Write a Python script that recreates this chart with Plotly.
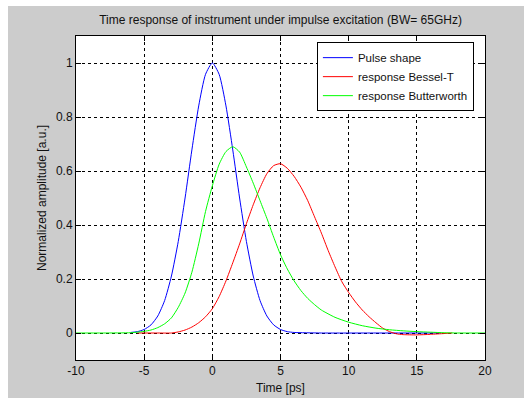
import plotly.graph_objects as go

# ---- data ----
t_pulse = [-6, -5.5, -5, -4.5, -4, -3.5, -3, -2.5, -2, -1.5, -1, -0.5, 0,
           0.5, 1, 1.5, 2, 2.5, 3, 3.5, 4, 4.5, 5, 5.5, 6, 8, 12, 16.8]
v_pulse = [0.002, 0.005, 0.013, 0.030, 0.063, 0.120, 0.211, 0.339, 0.500, 0.678, 0.841, 0.958, 1.0,
           0.958, 0.841, 0.678, 0.500, 0.339, 0.211, 0.120, 0.063, 0.030, 0.013, 0.005, 0.002, 0, 0, 0]

t_bessel = [-5.5, -4, -3, -2.5, -2, -1.5, -1, -0.5, 0, 0.5, 1, 1.5, 2, 2.5, 3, 3.5, 4, 4.5, 5,
            5.5, 6, 6.5, 7, 7.5, 8, 8.5, 9, 9.5, 10, 10.5, 11, 11.5, 12, 12.5, 13, 13.5, 14,
            15, 16, 17, 17.6]
v_bessel = [0, 0, 0, 0.004, 0.011, 0.022, 0.038, 0.060, 0.090, 0.135, 0.193, 0.260, 0.330, 0.405,
            0.475, 0.538, 0.590, 0.620, 0.627, 0.610, 0.580, 0.540, 0.490, 0.430, 0.370, 0.305,
            0.245, 0.190, 0.150, 0.115, 0.085, 0.060, 0.038, 0.018, 0.005, -0.003, -0.006,
            -0.007, -0.005, -0.002, 0]

t_butter = [-10, -8, -6, -5.5, -5, -4.5, -4, -3.5, -3, -2.5, -2, -1.5, -1, -0.5, 0, 0.5, 1, 1.5,
            2, 2.5, 3, 3.5, 4, 4.5, 5, 5.5, 6, 6.5, 7, 7.5, 8, 9, 10, 11, 12, 13, 14, 15, 16, 17,
            18, 20]
v_butter = [0, 0, 0.001, 0.003, 0.006, 0.011, 0.020, 0.034, 0.056, 0.095, 0.148, 0.225, 0.330,
            0.450, 0.545, 0.625, 0.672, 0.690, 0.670, 0.615, 0.555, 0.490, 0.425, 0.355, 0.290,
            0.237, 0.193, 0.157, 0.128, 0.105, 0.085, 0.058, 0.040, 0.027, 0.018, 0.012, 0.008,
            0.005, 0.003, 0.001, 0, 0]

x_ticks = [-10, -5, 0, 5, 10, 15, 20]
y_ticks = [0, 0.2, 0.4, 0.6, 0.8, 1]

FONT = "Liberation Sans, Arial, sans-serif"
TXT = "#111111"

fig = go.Figure()
fig.add_trace(go.Scatter(x=t_pulse, y=v_pulse, mode="lines", name="Pulse shape",
                         line=dict(color="#0000ff", width=1, shape="spline", smoothing=0.6)))
fig.add_trace(go.Scatter(x=t_bessel, y=v_bessel, mode="lines", name="response Bessel-T",
                         line=dict(color="#ff0000", width=1, shape="spline", smoothing=0.6)))
fig.add_trace(go.Scatter(x=t_butter, y=v_butter, mode="lines", name="response Butterworth",
                         line=dict(color="#00ff00", width=1, shape="spline", smoothing=0.6)))

axis_common = dict(
    showline=True, linecolor="#000000", linewidth=1, mirror="ticks",
    ticks="inside", ticklen=5, tickcolor="#000000", tickwidth=1,
    showgrid=True, gridcolor="#000000", gridwidth=1, griddash="dot",
    zeroline=False, automargin=False,
    tickfont=dict(family=FONT, size=12, color=TXT),
)

fig.update_xaxes(range=[-10, 20], tickvals=x_ticks, ticktext=[str(v) for v in x_ticks],
                 title=dict(text="Time [ps]", font=dict(family=FONT, size=12, color=TXT), standoff=6),
                 **axis_common)
fig.update_yaxes(range=[-0.1, 1.1], tickvals=y_ticks, ticktext=["0", "0.2", "0.4", "0.6", "0.8", "1"],
                 title=dict(text="Normalized amplitude [a.u.]", font=dict(family=FONT, size=12, color=TXT), standoff=6),
                 **axis_common)

fig.update_layout(
    width=524, height=398,
    margin=dict(l=76, r=39, t=36, b=38),
    paper_bgcolor="#cccccc", plot_bgcolor="#ffffff",
    title=dict(text="Time response of instrument under impulse excitation (BW= 65GHz)",
               x=0.5354, xanchor="center", y=1 - 20 / 398, yanchor="middle",
               font=dict(family=FONT, size=12, color=TXT)),
    showlegend=True,
    legend=dict(x=0.589, y=0.981, xanchor="left", yanchor="top",
                bgcolor="#ffffff", bordercolor="#000000", borderwidth=1,
                font=dict(family=FONT, size=11.5, color=TXT), tracegroupgap=0),
    shapes=[
        dict(type="rect", xref="paper", yref="paper", x0=-0.25, x1=(8 - 76) / 409,
             y0=-0.25, y1=1.25, fillcolor="#ffffff", line=dict(width=0), layer="below"),
        dict(type="rect", xref="paper", yref="paper", x0=-0.25, x1=1.25,
             y0=(360 - 6) / 324, y1=1.25, fillcolor="#ffffff", line=dict(width=0), layer="below"),
    ],
)

fig.write_html("out.html")
